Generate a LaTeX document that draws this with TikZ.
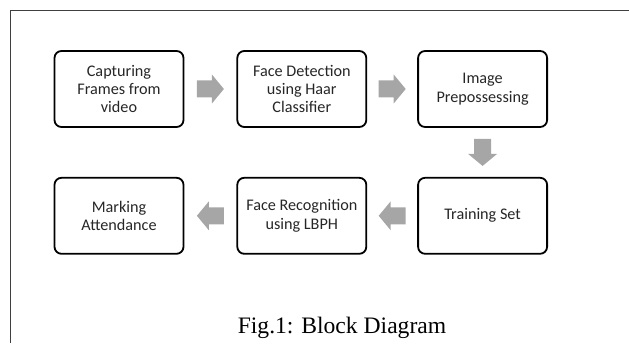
\documentclass[tikz,border=0pt]{standalone}
\usepackage{fontspec}
\setmainfont{Carlito}
\newfontfamily\captionfont{Liberation Serif}
\usetikzlibrary{
    calc,        % For midpoints between boxes
    positioning  % For relative placement of boxes
}

\begin{document}
\begin{tikzpicture}[
    x=1pt, y=1pt,
    stage/.style={draw, line width=1.8pt, rounded corners=7pt,
        minimum width=129pt, minimum height=76pt, align=center,
        text=black!85, font=\fontsize{16.2}{18.4}\selectfont},
    frameline/.style={black!75, line width=0.9pt},
    % Grey block arrow pointing along +x, drawn round the origin
    pics/garrow/.style={code={
        \fill[black!35] (-13.5,-8.5) -- (1.5,-8.5) -- (1.5,-14.5) -- (13.5,0)
            -- (1.5,14.5) -- (1.5,8.5) -- (-13.5,8.5) -- cycle;
    }}
]
    \useasboundingbox (0,0) rectangle (629,343);

    % Page frame (left and top edges only)
    \draw[frameline] (10,0) -- (10,333) -- (629,333);

    % Upper row
    \node[stage] (capture) at (119,254) {Capturing\\Frames from\\video};
    \node[stage, right=52pt of capture] (detect) {Face Detection\\using Haar\\Classifier};
    \node[stage, right=50pt of detect] (prep) {Image\\Prepossessing};

    % Lower row
    \node[stage, below=49pt of prep] (train) {Training Set};
    \node[stage, left=50pt of train] (recog) {Face Recognition\\using LBPH};
    \node[stage, left=52pt of recog] (mark) {Marking\\Attendance};

    % Block arrows between the stages
    \pic at ($(capture.east)!0.5!(detect.west)$) {garrow};
    \pic at ($(detect.east)!0.5!(prep.west)$) {garrow};
    \pic[rotate=-90] at ($(prep.south)!0.5!(train.north)$) {garrow};
    \pic[rotate=180] at ($(train.west)!0.5!(recog.east)$) {garrow};
    \pic[rotate=180] at ($(recog.west)!0.5!(mark.east)$) {garrow};

    % Caption
    \node[anchor=base, font=\captionfont\fontsize{23.6}{26}\selectfont] (caption)
        at (342,10) {Fig.1: Block Diagram};
\end{tikzpicture}
\end{document}
